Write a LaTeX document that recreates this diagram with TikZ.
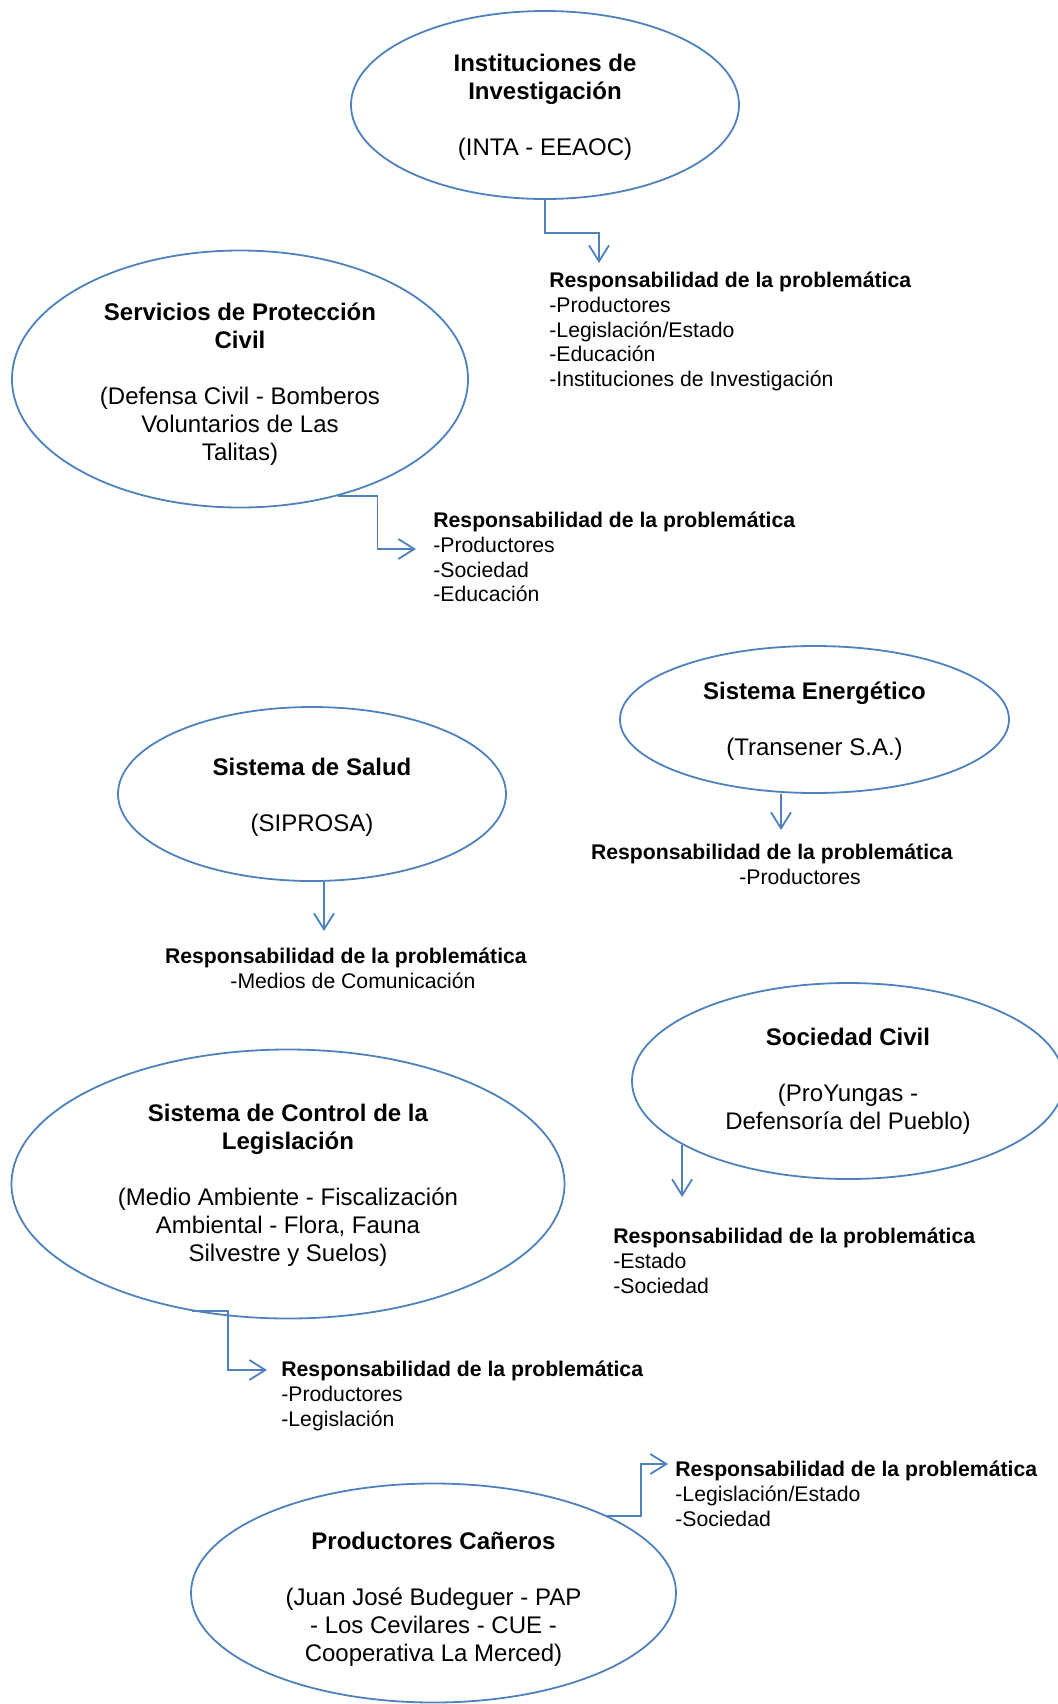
\documentclass[tikz,border=0pt]{standalone}
\usepackage{fontspec}
\setmainfont{Liberation Sans}
\usepackage{tikz}
\usetikzlibrary{positioning,calc,shapes.geometric,arrows.meta}

\definecolor{lineblue}{RGB}{79,129,189}
\newcommand{\ovalfont}{\fontsize{12}{14}\selectfont}
\newcommand{\notefont}{\fontsize{10.6}{12.3}\selectfont}

\begin{document}
\begin{tikzpicture}[
    x=0.5pt, y=-0.5pt,
    actor/.style={ellipse,draw=lineblue,line width=0.9pt,inner sep=0pt,align=center,font=\ovalfont},
    note/.style={inner sep=0pt,align=left,anchor=north west,font=\notefont},
    cnote/.style={inner sep=0pt,align=center,anchor=north,font=\notefont},
    link/.style={draw=lineblue,line width=0.9pt,-{Straight Barb[length=8pt,width=10pt]}}
]

\useasboundingbox (0,0) rectangle (1058,1704);
\clip (0,0) rectangle (1058,1704);

% Ellipses
\node[actor,minimum width=194pt,minimum height=94pt] (inst) at (545,105)
    {\rule{0pt}{10.5pt}\textbf{Instituciones de}\\\textbf{Investigación}\\[14pt](INTA - EEAOC)};
\node[actor,minimum width=228pt,minimum height=128.5pt] (serv) at (240,379)
    {\rule{0pt}{13.5pt}\textbf{Servicios de Protección}\\\textbf{Civil}\\[14pt](Defensa Civil - Bomberos\\Voluntarios de Las\\Talitas)};
\node[actor,minimum width=194.5pt,minimum height=73.5pt] (energ) at (814.5,719.5)
    {\rule{0pt}{10.5pt}\textbf{Sistema Energético}\\[14pt](Transener S.A.)};
\node[actor,minimum width=194pt,minimum height=87pt] (salud) at (312,794)
    {\rule{0pt}{12pt}\textbf{Sistema de Salud}\\[14pt](SIPROSA)};
\node[actor,minimum width=216pt,minimum height=98pt] (socie) at (848,1081)
    {\textbf{Sociedad Civil}\\[14pt](ProYungas -\\Defensoría del Pueblo)};
\node[actor,minimum width=276.5pt,minimum height=134.5pt] (ctrl) at (288,1184)
    {\rule{0pt}{9.8pt}\textbf{Sistema de Control de la}\\\textbf{Legislación}\\[14pt](Medio Ambiente - Fiscalización\\Ambiental - Flora, Fauna\\Silvestre y Suelos)};
\node[actor,minimum width=242.5pt,minimum height=109.5pt] (prod) at (433.5,1593)
    {\rule{0pt}{15pt}\textbf{Productores Cañeros}\\[14pt](Juan José Budeguer - PAP\\- Los Cevilares - CUE -\\Cooperativa La Merced)};

% Responsibility notes
\node[note] (resp1) at (549,272)
    {\textbf{Responsabilidad de la problemática}\\-Productores\\-Legislación/Estado\\-Educación\\-Instituciones de Investigación};
\node[note] (resp2) at (433,512)
    {\textbf{Responsabilidad de la problemática}\\-Productores\\-Sociedad\\-Educación};
\node[cnote] (resp3) at (772,844)
    {\textbf{Responsabilidad de la problemática}\\\hspace*{28pt}-Productores};
\node[cnote] (resp4) at (346,948)
    {\textbf{Responsabilidad de la problemática}\\\hspace*{7pt}-Medios de Comunicación};
\node[note] (resp5) at (613,1228)
    {\textbf{Responsabilidad de la problemática}\\-Estado\\-Sociedad};
\node[note] (resp6) at (281,1361)
    {\textbf{Responsabilidad de la problemática}\\-Productores\\-Legislación};
\node[note] (resp7) at (675,1461)
    {\textbf{Responsabilidad de la problemática}\\-Legislación/Estado\\-Sociedad};

% Arrow tips
\coordinate (tip1) at ($(resp1.north west)+(50,-9)$);
\coordinate (tip2) at ($(resp2.north west)+(-17,37)$);
\coordinate (tip3) at ($(resp3.north)+(9,-14)$);
\coordinate (tip4) at ($(resp4.north)+(-22,-17)$);
\coordinate (tip5) at ($(resp5.north west)+(71,-31)$);
\coordinate (tip6) at ($(resp6.north west)+(-14,9)$);
\coordinate (tip7) at ($(resp7.north west)+(-7,3)$);

% Connectors
\draw[link] (inst.south) -- ++(0,33) -| (tip1);
\draw[link] (serv.-50) -- ++(39.5,0) |- (tip2);
\draw[link] (energ.south -| tip3) -- (tip3);
\draw[link] (salud.south -| tip4) -- (tip4);
\draw[link] (socie.201) -- (socie.201 |- tip5);
\draw[link] (ctrl.233) -- ++(36,0) |- (tip6);
\draw[link] (prod.24) -- ++(34,0) |- (tip7);

\end{tikzpicture}
\end{document}
